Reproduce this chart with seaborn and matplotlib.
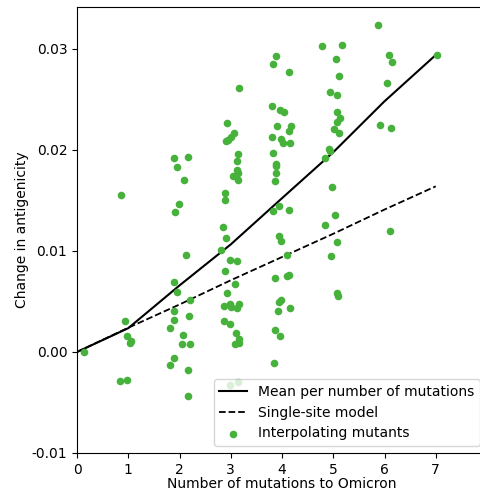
import numpy as np
import pandas as pd
import matplotlib
matplotlib.use("Agg")
import matplotlib.pyplot as plt
import seaborn as sns

# interpolating mutants: x position (jittered around number of mutations), change in antigenicity
x_pos = [
    0.14,
    0.85, 0.94, 0.98, 1.06, 1.03, 0.84, 0.97,
    1.90, 2.16, 1.95, 2.09, 1.99, 1.91, 2.12, 1.90, 1.95, 2.20, 1.90,
    2.19, 1.89, 1.82, 2.06, 2.05, 2.20, 1.90, 1.82, 2.17, 2.17,
    3.17, 2.93, 3.06, 3.00, 2.94, 2.91, 3.14, 3.13, 3.13, 3.14, 3.04, 3.14,
    2.88, 2.88, 2.84, 2.91, 2.80, 2.99, 3.13, 2.89, 3.09, 2.93, 2.87, 2.98,
    3.01, 3.13, 3.17, 2.87, 2.98, 3.11, 3.16, 3.17, 3.09, 3.15, 2.98,
    3.88, 3.82, 4.14, 3.81, 3.97, 4.03, 3.90, 4.18, 4.13, 3.81, 3.99, 4.01,
    4.15, 3.83, 3.88, 3.88, 3.88, 3.86, 3.95, 3.83, 4.13, 3.95, 3.99, 4.09,
    3.87, 4.09, 4.13, 3.94, 3.99, 3.92, 4.16, 3.87, 3.96, 3.84,
    4.79, 5.18, 5.05, 5.12, 4.94, 5.07, 5.08, 5.13, 5.07, 5.01, 5.12, 4.91,
    4.94, 4.84, 4.97, 5.03, 4.83, 5.08, 4.96, 5.08, 5.10,
    5.88, 6.08, 6.15, 6.05, 5.91, 6.13, 6.10,
    7.02,
]
change = [
    0.0,
    0.01555, 0.0031, 0.0016, 0.0011, 0.00085, -0.0029, -0.0028,
    0.01921, 0.01934, 0.01835, 0.01706, 0.01468, 0.01382, 0.0096, 0.00693, 0.00597, 0.00511, 0.00402,
    0.00353, 0.00313, 0.0024, 0.00168, 0.00080, 0.00079, -0.00063, -0.00129, -0.00178, -0.0044,
    0.0261, 0.02263, 0.02171, 0.02125, 0.02102, 0.02089, 0.01963, 0.01894, 0.01805, 0.01772, 0.01739, 0.01699,
    0.01574, 0.01501, 0.01238, 0.01125, 0.0101, 0.00914, 0.00901, 0.00802, 0.00669, 0.00584, 0.00452, 0.00478,
    0.00442, 0.00436, 0.00475, 0.0031, 0.00277, 0.00184, 0.00129, 0.00089, 0.00079, -0.00301, -0.00331,
    0.02934, 0.02851, 0.02775, 0.02439, 0.02392, 0.02372, 0.02234, 0.02241, 0.02184, 0.02125, 0.02109, 0.02069,
    0.02072, 0.0197, 0.01864, 0.01838, 0.01772, 0.01696, 0.01442, 0.01392, 0.01402, 0.01151, 0.01099, 0.0096,
    0.00733, 0.00749, 0.00765, 0.00498, 0.00518, 0.00409, 0.00439, 0.00214, 0.00161, -0.00113,
    0.03033, 0.03043, 0.02901, 0.02729, 0.02574, 0.02541, 0.02372, 0.02313, 0.02273, 0.02211, 0.02168, 0.02013,
    0.01993, 0.01921, 0.01637, 0.01359, 0.01257, 0.01092, 0.00953, 0.00584, 0.00557,
    0.03238, 0.02937, 0.02874, 0.0266, 0.0225, 0.02218, 0.01194,
    0.0294,
]

n_sites = [0, 1, 2, 3, 4, 5, 6, 7]
single_site = [0.0, 0.0024, 0.0047, 0.0071, 0.0094, 0.0117, 0.0141, 0.0164]
ytick_vals = [-0.01, 0.0, 0.01, 0.02, 0.03]
ytick_labels = ["-0.01", "0.00", "0.01", "0.02", "0.03"]

df = pd.DataFrame({"x": x_pos, "change": change})
df["n_mut"] = np.rint(df["x"]).astype(int)

green = "#46b23c"

fig = plt.figure(figsize=(4.81, 4.95), dpi=100)
ax = fig.add_axes([77 / 481, 42 / 495, 410 / 481, 446.5 / 495])

sns.lineplot(data=df, x="n_mut", y="change", estimator="mean", errorbar=None,
             color="black", lw=1.5, ax=ax, label="Mean per number of mutations")
sns.lineplot(x=n_sites, y=single_site, color="black", lw=1.3, linestyle="--",
             ax=ax, label="Single-site model")
sns.scatterplot(data=df, x="x", y="change", color=green, s=30, linewidth=0,
                ax=ax, label="Interpolating mutants", zorder=3)

ax.set_xlim(0, 8)
ax.set_ylim(-0.01, 0.0342)
ax.set_xticks(n_sites)
ax.set_yticks(ytick_vals)
ax.set_yticklabels(ytick_labels)
ax.set_xlabel("Number of mutations to Omicron", labelpad=0)
ax.set_ylabel("Change in antigenicity", labelpad=2)
ax.spines["right"].set_visible(False)

ax.legend(loc="lower right")

fig.savefig("out.png", dpi=100)
